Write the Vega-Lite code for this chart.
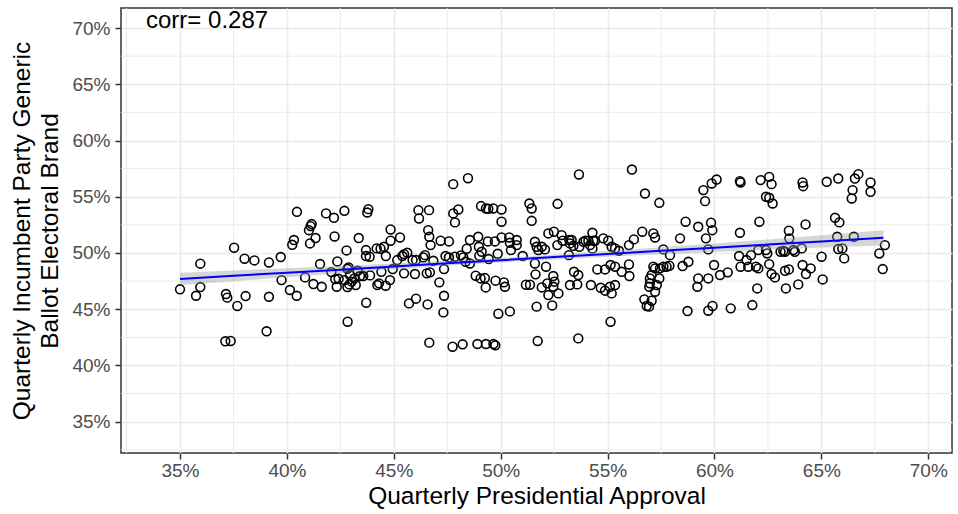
{
  "$schema": "https://vega.github.io/schema/vega-lite/v6.json",
  "width": 831,
  "height": 445,
  "autosize": {"type": "none"},
  "padding": {"left": 121, "top": 8, "right": 6, "bottom": 61},
  "background": "white",
  "config": {
    "view": {"stroke": "#333333", "strokeWidth": 1.5},
    "font": "Liberation Sans",
    "axis": {
      "domain": false,
      "gridColor": "#EBEBEB",
      "gridWidth": 1.6,
      "tickColor": "#333333",
      "tickWidth": 1.5,
      "tickSize": 6,
      "labelColor": "#4D4D4D",
      "labelFont": "Liberation Sans",
      "labelFontSize": 19,
      "labelOverlap": false,
      "titleFont": "Liberation Sans",
      "titleFontSize": 24.5,
      "titleFontWeight": "normal",
      "titleColor": "#000000"
    }
  },
  "datasets": {
    "minorx": [{"v":0.325},{"v":0.375},{"v":0.425},{"v":0.475},{"v":0.525},{"v":0.575},{"v":0.625},{"v":0.675}],
    "minory": [{"v":0.325},{"v":0.375},{"v":0.425},{"v":0.475},{"v":0.525},{"v":0.575},{"v":0.625},{"v":0.675}],
    "pts": [
      {"x":0.3500,"y":0.4677},{"x":0.3595,"y":0.4905},{"x":0.3595,"y":0.4697},{"x":0.3575,"y":0.4620},{"x":0.3753,"y":0.5047},{"x":0.3802,"y":0.4949},{"x":0.3848,"y":0.4934},{"x":0.3916,"y":0.4916},{"x":0.3715,"y":0.4635},{"x":0.3721,"y":0.4603},{"x":0.3807,"y":0.4617},{"x":0.3768,"y":0.4529},{"x":0.3916,"y":0.4611},{"x":0.3905,"y":0.4304},{"x":0.3712,"y":0.4215},{"x":0.3737,"y":0.4218},
      {"x":0.3971,"y":0.4964},{"x":0.3975,"y":0.4759},{"x":0.4014,"y":0.4671},{"x":0.4046,"y":0.4620},{"x":0.4047,"y":0.5366},{"x":0.4025,"y":0.5073},{"x":0.4033,"y":0.5115},{"x":0.4085,"y":0.4783},{"x":0.4124,"y":0.4724},{"x":0.4163,"y":0.4700},{"x":0.4155,"y":0.4902},{"x":0.4108,"y":0.5085},{"x":0.4103,"y":0.5203},{"x":0.4111,"y":0.5239},{"x":0.4116,"y":0.5257},{"x":0.4134,"y":0.5133},{"x":0.4183,"y":0.5352},{"x":0.4220,"y":0.5313},{"x":0.4269,"y":0.5375},{"x":0.4223,"y":0.5147},{"x":0.4236,"y":0.4925},{"x":0.4208,"y":0.4830},{"x":0.4279,"y":0.5023},{"x":0.4336,"y":0.5133},{"x":0.4381,"y":0.5390},{"x":0.4376,"y":0.5360},{"x":0.4370,"y":0.5026},{"x":0.4370,"y":0.4973},{"x":0.4387,"y":0.4967},{"x":0.4226,"y":0.4768},{"x":0.4242,"y":0.4771},{"x":0.4233,"y":0.4700},{"x":0.4269,"y":0.4759},{"x":0.4283,"y":0.4860},{"x":0.4289,"y":0.4872},{"x":0.4295,"y":0.4804},{"x":0.4283,"y":0.4697},{"x":0.4292,"y":0.4721},{"x":0.4303,"y":0.4745},{"x":0.4315,"y":0.4774},{"x":0.4331,"y":0.4842},{"x":0.4342,"y":0.4795},{"x":0.4322,"y":0.4715},{"x":0.4357,"y":0.4795},{"x":0.4389,"y":0.4801},{"x":0.4371,"y":0.4558},{"x":0.4284,"y":0.4389},{"x":0.4420,"y":0.5041},{"x":0.4438,"y":0.5038},{"x":0.4454,"y":0.5055},{"x":0.4485,"y":0.5209},{"x":0.4485,"y":0.5109},{"x":0.4529,"y":0.5138},{"x":0.4463,"y":0.4973},{"x":0.4442,"y":0.4833},{"x":0.4423,"y":0.4715},{"x":0.4431,"y":0.4730},{"x":0.4462,"y":0.4709},{"x":0.4482,"y":0.4759},{"x":0.4495,"y":0.4857},{"x":0.4516,"y":0.4937},{"x":0.4548,"y":0.4819},{"x":0.4540,"y":0.4973},{"x":0.4548,"y":0.4990},{"x":0.4563,"y":0.5002},{"x":0.4571,"y":0.4552},
      {"x":0.4604,"y":0.4594},{"x":0.4599,"y":0.4813},{"x":0.4588,"y":0.4937},{"x":0.4604,"y":0.4937},{"x":0.4615,"y":0.5381},{"x":0.4665,"y":0.5381},{"x":0.4618,"y":0.5307},{"x":0.4661,"y":0.5203},{"x":0.4666,"y":0.5144},{"x":0.4672,"y":0.5070},{"x":0.4719,"y":0.5109},{"x":0.4758,"y":0.5103},{"x":0.4638,"y":0.4961},{"x":0.4646,"y":0.4981},{"x":0.4654,"y":0.4819},{"x":0.4669,"y":0.4828},{"x":0.4685,"y":0.4931},{"x":0.4713,"y":0.4739},{"x":0.4735,"y":0.4857},{"x":0.4735,"y":0.4620},{"x":0.4732,"y":0.4472},{"x":0.4658,"y":0.4543},{"x":0.4666,"y":0.4203},{"x":0.4742,"y":0.4973},{"x":0.4758,"y":0.4961},{"x":0.4775,"y":0.4167},{"x":0.4822,"y":0.4188},{"x":0.4778,"y":0.5612},{"x":0.4847,"y":0.5665},{"x":0.4778,"y":0.5352},{"x":0.4802,"y":0.5387},{"x":0.4786,"y":0.5272},{"x":0.4786,"y":0.4967},{"x":0.4814,"y":0.4979},{"x":0.4825,"y":0.4961},{"x":0.4836,"y":0.4922},{"x":0.4856,"y":0.4907},{"x":0.4841,"y":0.5038},{"x":0.4856,"y":0.5115},{"x":0.4895,"y":0.5144},{"x":0.4898,"y":0.5055},{"x":0.4911,"y":0.5011},{"x":0.4900,"y":0.4976},{"x":0.4944,"y":0.4946},{"x":0.4883,"y":0.4798},{"x":0.4906,"y":0.4774},{"x":0.4926,"y":0.4777},{"x":0.4930,"y":0.4694},{"x":0.4940,"y":0.5103},{"x":0.4973,"y":0.5103},{"x":0.4986,"y":0.4993},{"x":0.4976,"y":0.4754},{"x":0.5015,"y":0.4739},{"x":0.5020,"y":0.4700},{"x":0.4989,"y":0.4460},{"x":0.5043,"y":0.4481},{"x":0.4908,"y":0.5417},{"x":0.4931,"y":0.5396},{"x":0.4942,"y":0.5393},{"x":0.4965,"y":0.5396},{"x":0.5004,"y":0.5387},{"x":0.5004,"y":0.5278},{"x":0.4891,"y":0.4191},{"x":0.4931,"y":0.4191},{"x":0.4966,"y":0.4191},{"x":0.4975,"y":0.4179},{"x":0.5004,"y":0.5138},{"x":0.5040,"y":0.5138},{"x":0.5043,"y":0.5091},{"x":0.5048,"y":0.5026},{"x":0.5075,"y":0.5115},{"x":0.5075,"y":0.5070},{"x":0.5103,"y":0.4973},{"x":0.5118,"y":0.4718},{"x":0.5137,"y":0.4718},{"x":0.5134,"y":0.5440},{"x":0.5145,"y":0.5396},{"x":0.5145,"y":0.5286},{"x":0.5160,"y":0.5100},{"x":0.5168,"y":0.5055},{"x":0.5176,"y":0.5026},{"x":0.5192,"y":0.5055},{"x":0.5207,"y":0.5032},{"x":0.5160,"y":0.4907},{"x":0.5163,"y":0.4810},{"x":0.5168,"y":0.4523},{"x":0.5173,"y":0.4218},{"x":0.5192,"y":0.4694},{"x":0.5212,"y":0.4878},{"x":0.5223,"y":0.5174},{"x":0.5218,"y":0.4730},{"x":0.5223,"y":0.4626},
      {"x":0.5249,"y":0.5189},{"x":0.5265,"y":0.5070},{"x":0.5285,"y":0.5159},{"x":0.5290,"y":0.5109},{"x":0.5266,"y":0.5437},{"x":0.5366,"y":0.5698},{"x":0.5321,"y":0.5115},{"x":0.5324,"y":0.5085},{"x":0.5332,"y":0.5115},{"x":0.5319,"y":0.4981},{"x":0.5340,"y":0.5064},{"x":0.5368,"y":0.5055},{"x":0.5387,"y":0.5100},{"x":0.5397,"y":0.5109},{"x":0.5410,"y":0.5109},{"x":0.5418,"y":0.5070},{"x":0.5429,"y":0.5180},{"x":0.5433,"y":0.5109},{"x":0.5429,"y":0.5041},{"x":0.5441,"y":0.5109},{"x":0.5246,"y":0.4795},{"x":0.5251,"y":0.4745},{"x":0.5246,"y":0.4700},{"x":0.5270,"y":0.4641},{"x":0.5241,"y":0.4534},{"x":0.5343,"y":0.4833},{"x":0.5363,"y":0.4804},{"x":0.5324,"y":0.4715},{"x":0.5358,"y":0.4721},{"x":0.5422,"y":0.4715},{"x":0.5363,"y":0.4241},{"x":0.5452,"y":0.4854},{"x":0.5488,"y":0.4854},{"x":0.5468,"y":0.4691},{"x":0.5488,"y":0.4665},{"x":0.5511,"y":0.4700},{"x":0.5519,"y":0.4641},{"x":0.5535,"y":0.4715},{"x":0.5514,"y":0.4893},{"x":0.5535,"y":0.4878},{"x":0.5566,"y":0.4833},{"x":0.5600,"y":0.4898},{"x":0.5602,"y":0.4795},{"x":0.5514,"y":0.4389},{"x":0.5480,"y":0.5130},{"x":0.5503,"y":0.5109},{"x":0.5519,"y":0.5055},{"x":0.5535,"y":0.5041},{"x":0.5553,"y":0.5020},{"x":0.5600,"y":0.5070},{"x":0.5623,"y":0.5121},{"x":0.5614,"y":0.5742},{"x":0.5675,"y":0.5529},{"x":0.5742,"y":0.5446},{"x":0.5662,"y":0.5189},{"x":0.5714,"y":0.5174},{"x":0.5722,"y":0.5138},{"x":0.5761,"y":0.5032},{"x":0.5792,"y":0.4981},{"x":0.5714,"y":0.4878},{"x":0.5722,"y":0.4863},{"x":0.5745,"y":0.4863},{"x":0.5761,"y":0.4878},{"x":0.5776,"y":0.4878},{"x":0.5789,"y":0.4887},{"x":0.5706,"y":0.4804},{"x":0.5698,"y":0.4774},{"x":0.5698,"y":0.4730},{"x":0.5695,"y":0.4700},{"x":0.5742,"y":0.4774},{"x":0.5730,"y":0.4715},{"x":0.5722,"y":0.4656},{"x":0.5672,"y":0.4588},{"x":0.5706,"y":0.4576},{"x":0.5683,"y":0.4529},{"x":0.5694,"y":0.4523},{"x":0.5839,"y":0.5130},{"x":0.5865,"y":0.5278},{"x":0.5851,"y":0.4884},{"x":0.5874,"y":0.4484},
      {"x":0.5878,"y":0.4922},{"x":0.5948,"y":0.5559},{"x":0.5956,"y":0.5461},{"x":0.5987,"y":0.5618},{"x":0.6010,"y":0.5653},{"x":0.5924,"y":0.5233},{"x":0.5984,"y":0.5269},{"x":0.5990,"y":0.5203},{"x":0.5960,"y":0.5130},{"x":0.5971,"y":0.5032},{"x":0.5998,"y":0.4893},{"x":0.5924,"y":0.4774},{"x":0.5971,"y":0.4774},{"x":0.5920,"y":0.4700},{"x":0.6026,"y":0.4804},{"x":0.6062,"y":0.4828},{"x":0.5991,"y":0.4529},{"x":0.5971,"y":0.4487},{"x":0.6076,"y":0.4508},{"x":0.6119,"y":0.5639},{"x":0.6122,"y":0.5627},{"x":0.6119,"y":0.5180},{"x":0.6115,"y":0.4973},{"x":0.6122,"y":0.4878},{"x":0.6158,"y":0.4878},{"x":0.6150,"y":0.4937},{"x":0.6171,"y":0.4981},{"x":0.6194,"y":0.4878},{"x":0.6205,"y":0.4863},{"x":0.6200,"y":0.4685},{"x":0.6177,"y":0.4537},{"x":0.6216,"y":0.5648},{"x":0.6256,"y":0.5677},{"x":0.6267,"y":0.5612},{"x":0.6241,"y":0.5500},{"x":0.6256,"y":0.5491},{"x":0.6272,"y":0.5440},{"x":0.6210,"y":0.5278},{"x":0.6205,"y":0.5026},{"x":0.6241,"y":0.5026},{"x":0.6247,"y":0.4996},{"x":0.6256,"y":0.4901},{"x":0.6267,"y":0.4813},{"x":0.6283,"y":0.4783},{"x":0.6309,"y":0.5011},{"x":0.6322,"y":0.5017},{"x":0.6330,"y":0.5011},{"x":0.6348,"y":0.5198},{"x":0.6350,"y":0.5130},{"x":0.6369,"y":0.5026},{"x":0.6376,"y":0.5011},{"x":0.6408,"y":0.5041},{"x":0.6330,"y":0.4842},{"x":0.6348,"y":0.4854},{"x":0.6334,"y":0.4685},{"x":0.6392,"y":0.4721},{"x":0.6412,"y":0.5627},{"x":0.6415,"y":0.5594},{"x":0.6426,"y":0.5254},{"x":0.6412,"y":0.4893},{"x":0.6450,"y":0.4863},{"x":0.6428,"y":0.4813},{"x":0.6501,"y":0.4967},{"x":0.6506,"y":0.4765},{"x":0.6525,"y":0.5633},
      {"x":0.6579,"y":0.5662},{"x":0.6657,"y":0.5662},{"x":0.6673,"y":0.5701},{"x":0.6646,"y":0.5559},{"x":0.6642,"y":0.5485},{"x":0.6730,"y":0.5627},{"x":0.6730,"y":0.5544},{"x":0.6564,"y":0.5313},{"x":0.6584,"y":0.5272},{"x":0.6574,"y":0.5144},{"x":0.6652,"y":0.5144},{"x":0.6579,"y":0.5035},{"x":0.6598,"y":0.5041},{"x":0.6607,"y":0.4952},{"x":0.6797,"y":0.5070},{"x":0.6771,"y":0.4996},{"x":0.6787,"y":0.4857}
    ],
    "fit": [
      {"x":0.350,"fit":0.4769,"lo":0.4713,"hi":0.4825},
      {"x":0.375,"fit":0.4797,"lo":0.4749,"hi":0.4845},
      {"x":0.400,"fit":0.4825,"lo":0.4785,"hi":0.4865},
      {"x":0.425,"fit":0.4852,"lo":0.4819,"hi":0.4885},
      {"x":0.450,"fit":0.4880,"lo":0.4853,"hi":0.4907},
      {"x":0.475,"fit":0.4908,"lo":0.4886,"hi":0.4930},
      {"x":0.500,"fit":0.4936,"lo":0.4916,"hi":0.4956},
      {"x":0.525,"fit":0.4964,"lo":0.4943,"hi":0.4985},
      {"x":0.550,"fit":0.4992,"lo":0.4967,"hi":0.5017},
      {"x":0.575,"fit":0.5019,"lo":0.4988,"hi":0.5050},
      {"x":0.600,"fit":0.5047,"lo":0.5009,"hi":0.5085},
      {"x":0.625,"fit":0.5075,"lo":0.5029,"hi":0.5121},
      {"x":0.650,"fit":0.5103,"lo":0.5048,"hi":0.5158},
      {"x":0.679,"fit":0.5135,"lo":0.5067,"hi":0.5203}
    ],
    "note": [{"x":0.3341,"y":0.7064,"label":"corr= 0.287"}]
  },
  "layer": [
    {
      "data": {"name": "minorx"},
      "mark": {"type": "rule", "color": "#EBEBEB", "strokeWidth": 1},
      "encoding": {
        "x": {
          "field": "v", "type": "quantitative",
          "scale": {"domain": [0.3224, 0.7111], "nice": false, "zero": false},
          "axis": {
            "title": "Quarterly Presidential Approval",
            "values": [0.35,0.4,0.45,0.5,0.55,0.6,0.65,0.7],
            "format": ".0%",
            "labelPadding": 2,
            "titlePadding": 4
          }
        }
      }
    },
    {
      "data": {"name": "minory"},
      "mark": {"type": "rule", "color": "#EBEBEB", "strokeWidth": 1},
      "encoding": {
        "y": {
          "field": "v", "type": "quantitative",
          "scale": {"domain": [0.3222, 0.7178], "nice": false, "zero": false},
          "axis": {
            "title": ["Quarterly Incumbent Party Generic", "Ballot Electoral Brand"],
            "titleLineHeight": 28,
            "values": [0.35,0.4,0.45,0.5,0.55,0.6,0.65,0.7],
            "format": ".0%",
            "labelPadding": 5,
            "titlePadding": 9
          }
        }
      }
    },
    {
      "data": {"name": "pts"},
      "mark": {"type": "point", "shape": "circle", "filled": false, "stroke": "#000000", "strokeWidth": 1.6, "size": 78, "opacity": 1},
      "encoding": {
        "x": {"field": "x", "type": "quantitative"},
        "y": {"field": "y", "type": "quantitative"}
      }
    },
    {
      "data": {"name": "fit"},
      "mark": {"type": "area", "color": "#999999", "opacity": 0.4},
      "encoding": {
        "x": {"field": "x", "type": "quantitative"},
        "y": {"field": "lo", "type": "quantitative"},
        "y2": {"field": "hi"}
      }
    },
    {
      "data": {"name": "fit"},
      "mark": {"type": "line", "color": "#0000FF", "strokeWidth": 2},
      "encoding": {
        "x": {"field": "x", "type": "quantitative"},
        "y": {"field": "fit", "type": "quantitative"}
      }
    },
    {
      "data": {"name": "note"},
      "mark": {"type": "text", "align": "left", "baseline": "middle", "fontSize": 24, "font": "Liberation Sans", "color": "#000000"},
      "encoding": {
        "x": {"field": "x", "type": "quantitative"},
        "y": {"field": "y", "type": "quantitative"},
        "text": {"field": "label"}
      }
    }
  ]
}
